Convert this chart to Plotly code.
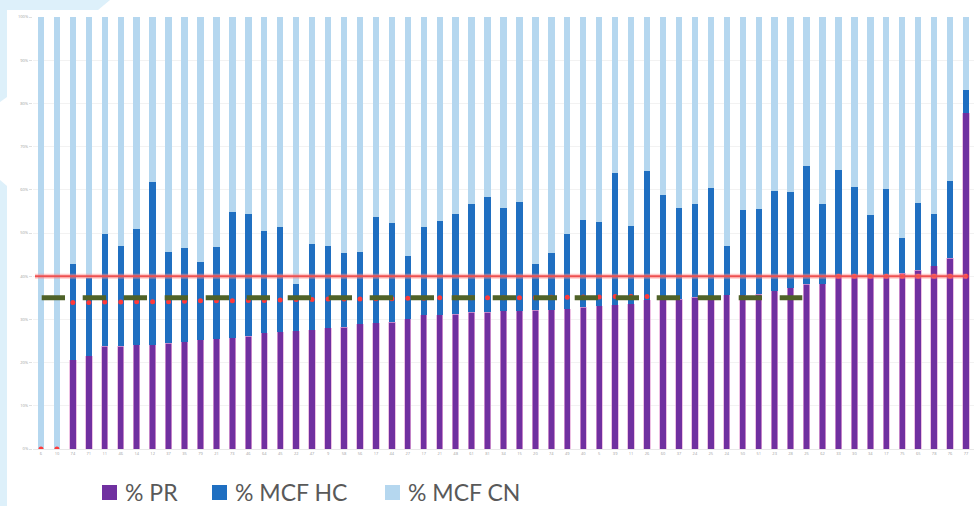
import plotly.graph_objects as go

# ---------------- data ----------------
categories = ["6", "10", "74", "71", "11", "46", "14", "12", "37", "35",
              "79", "21", "73", "46", "64", "45", "22", "47", "9", "58",
              "56", "17", "44", "27", "17", "21", "48", "61", "81", "34",
              "15", "20", "74", "49", "40", "5", "39", "11", "26", "60",
              "37", "24", "25", "24", "50", "51", "23", "28", "25", "62",
              "33", "30", "34", "17", "75", "65", "78", "76", "77"]

pr = [0, 0, 20.7, 21.6, 23.8, 23.8, 24.1, 24.1, 24.5, 24.8,
      25.3, 25.5, 25.7, 26.1, 26.9, 27.2, 27.4, 27.6, 28.1, 28.2,
      29.0, 29.2, 29.3, 30.2, 31.1, 31.1, 31.2, 31.6, 31.6, 32.0,
      32.0, 32.1, 32.2, 32.5, 32.8, 33.2, 33.4, 33.6, 34.6, 34.6,
      34.7, 35.1, 35.1, 35.7, 35.7, 35.8, 36.6, 37.3, 38.1, 38.2,
      40.0, 40.0, 40.1, 40.2, 40.7, 41.4, 42.4, 44.2, 77.8]

mcf_hc = [0, 0, 22.1, 18.0, 26.0, 23.3, 26.9, 37.8, 21.2, 21.8,
          18.1, 21.3, 29.2, 28.3, 23.5, 24.3, 10.8, 19.9, 18.9, 17.2,
          16.5, 24.4, 23.1, 14.5, 20.4, 21.7, 23.2, 25.0, 26.8, 23.9,
          25.2, 10.8, 13.2, 17.2, 20.3, 19.3, 30.6, 18.0, 29.8, 24.2,
          21.1, 21.7, 25.4, 11.3, 19.7, 19.7, 23.1, 22.3, 27.5, 18.4,
          24.7, 20.6, 14.1, 20.1, 8.1, 15.5, 12.1, 17.9, 5.4]

mcf_cn = [100, 100, 57.2, 60.4, 50.2, 52.9, 49.0, 38.1, 54.3, 53.4,
          56.6, 53.2, 45.1, 45.6, 49.6, 48.5, 61.8, 52.5, 53.0, 54.6,
          54.5, 46.4, 47.6, 55.3, 48.5, 47.2, 45.6, 43.4, 41.6, 44.1,
          42.8, 57.1, 54.6, 50.3, 46.9, 47.5, 36.0, 48.4, 35.6, 41.2,
          44.2, 43.2, 39.5, 53.0, 44.6, 44.5, 40.3, 40.4, 34.4, 43.4,
          35.3, 39.4, 45.8, 39.7, 51.2, 43.1, 45.5, 37.9, 16.8]

red_points = [0, 0, 33.9, 33.9, 34.0, 34.0, 34.1, 34.1, 34.1, 34.2,
              34.3, 34.3, 34.3, 34.4, 34.4, 34.5, 34.6, 34.6, 34.7, 34.7,
              34.7, 34.8, 34.8, 34.9, 34.9, 35.0, 35.0, 35.0, 35.0, 35.0,
              35.0, 35.0, 35.1, 35.1, 35.2, 35.2, 35.3, 35.3, 35.3, None,
              None, None, None, None, None, None, None, None, None, None,
              40.0, 40.0, 40.0, 40.0, 40.0, 40.0, 40.0, 40.0, 40.0]

target_red = 40       # solid red reference line
target_green = 35     # dashed green reference line
y_ticks = [0, 10, 20, 30, 40, 50, 60, 70, 80, 90, 100]
y_tick_labels = ["0%", "10%", "20%", "30%", "40%", "50%", "60%", "70%",
                 "80%", "90%", "100%"]
legend_names = ["% PR", "% MCF HC", "% MCF CN"]

# ---------------- styling ----------------
W, H = 975, 506
L, R, T, B = 33, 1, 17, 57
PW, PH = W - L - R, H - T - B

def px(x):
    return (x - L) / PW

def py(y):
    return (H - B - y) / PH

C_PR, C_HC, C_CN = "#7030A0", "#1F6FC1", "#B5D7EF"
DECOR = "#DDF0FA"

xs = list(range(len(categories)))

fig = go.Figure()
fig.add_bar(x=xs, y=pr, name=legend_names[0], marker_color=C_PR,
            marker_line=dict(color="#E6A8D8", width=0.7))
fig.add_bar(x=xs, y=mcf_hc, name=legend_names[1], marker_color=C_HC,
            marker_line=dict(width=0))
fig.add_bar(x=xs, y=mcf_cn, name=legend_names[2], marker_color=C_CN,
            marker_line=dict(width=0))
fig.add_scatter(x=xs, y=red_points, mode="markers",
                marker=dict(color="#FF3A3A", size=5), showlegend=False)

shapes = []
# decorative light-blue background pieces on the left
shapes.append(dict(type="path", xref="paper", yref="paper", layer="below",
                   path=f"M {px(0)},{py(0)} L {px(110)},{py(0)} L {px(98)},{py(10)} "
                        f"L {px(7)},{py(10)} L {px(7)},{py(97)} L {px(0)},{py(102)} Z",
                   fillcolor=DECOR, line=dict(width=0)))
shapes.append(dict(type="path", xref="paper", yref="paper", layer="below",
                   path=f"M {px(0)},{py(180)} L {px(7)},{py(186)} L {px(7)},{py(506)} "
                        f"L {px(0)},{py(506)} Z",
                   fillcolor=DECOR, line=dict(width=0)))
# red solid reference line
shapes.append(dict(type="line", xref="paper", yref="y",
                   x0=px(35), x1=px(967), y0=target_red, y1=target_red,
                   line=dict(color="rgba(255,140,140,0.45)", width=5)))
shapes.append(dict(type="line", xref="paper", yref="y",
                   x0=px(35), x1=px(967), y0=target_red, y1=target_red,
                   line=dict(color="#EE5050", width=2)))
# green dashed reference line
shapes.append(dict(type="line", xref="paper", yref="y",
                   x0=px(41.7), x1=px(802.3), y0=target_green, y1=target_green,
                   line=dict(color="#4F6228", width=5, dash="23.3px,17.7px")))

# manual legend
annotations = []
leg_sq = [102, 212, 385]
leg_colors = [C_PR, C_HC, C_CN]
for xq, col, name in zip(leg_sq, leg_colors, legend_names):
    shapes.append(dict(type="rect", xref="paper", yref="paper",
                       x0=px(xq), x1=px(xq + 15), y0=py(485), y1=py(500),
                       fillcolor=col, line=dict(width=0)))
    annotations.append(dict(xref="paper", yref="paper", x=px(xq + 21), y=py(492),
                            text=name, showarrow=False, xanchor="left",
                            yanchor="middle",
                            font=dict(family="Lato", size=23, color="#595959")))

fig.update_layout(
    width=W, height=H,
    margin=dict(l=L, r=R, t=T, b=B, pad=0, autoexpand=False),
    barmode="stack", bargap=0.6,
    paper_bgcolor="white", plot_bgcolor="white",
    showlegend=False,
    shapes=shapes, annotations=annotations,
    xaxis=dict(range=[-0.5, len(categories) - 0.5], tickmode="array",
               tickvals=xs, ticktext=categories, showgrid=False,
               zeroline=False, showline=True, linecolor="#E8E8E8",
               automargin=False,
               tickfont=dict(family="Open Sans", size=4, color="#A0A0A0"),
               ticks="", tickangle=0),
    yaxis=dict(range=[0, 100], tickmode="array", tickvals=y_ticks,
               ticktext=y_tick_labels, showgrid=True, gridcolor="#F2F2F2",
               gridwidth=1, zeroline=False, showline=False, automargin=False,
               tickfont=dict(family="Open Sans", size=4, color="#A0A0A0"),
               ticks="outside", ticklen=3, tickcolor="#E0E0E0"),
)

fig.write_html("out.html", config={"responsive": False, "displayModeBar": False},
               post_script="document.body.style.margin='0';"
                           "document.body.style.overflow='hidden';")
